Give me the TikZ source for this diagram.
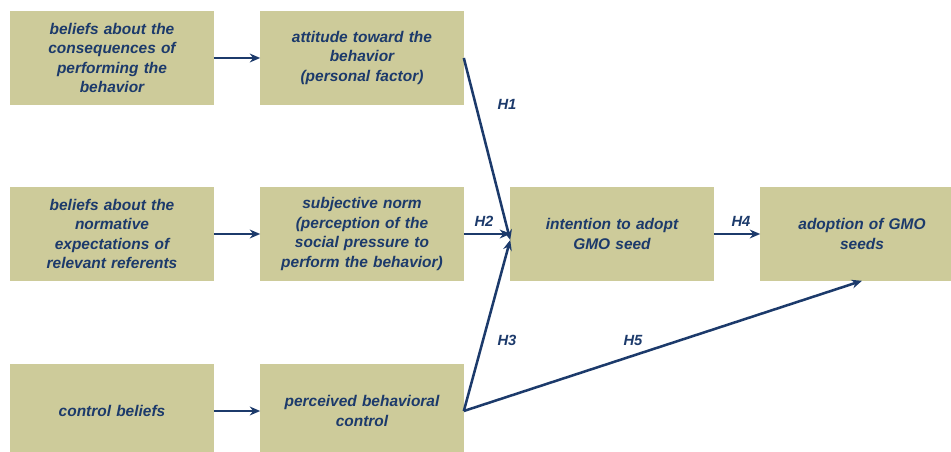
\documentclass[tikz,border=0pt]{standalone}
\usepackage{fontspec}
\setmainfont{Liberation Sans}
\usetikzlibrary{arrows.meta}

\definecolor{boxfill}{RGB}{205,203,154}
\definecolor{navy}{RGB}{28,58,107}

\begin{document}
\begin{tikzpicture}[>={Stealth[length=2.6mm,width=2.2mm]}, x=0.025cm, y=-0.025cm,
	factor/.style={fill=boxfill, text=navy, align=center, text width=4.7cm,
		minimum width=5.075cm, minimum height=2.325cm, inner sep=0pt,
		font=\bfseries\itshape\fontsize{11}{13.8}\selectfont},
	link/.style={->, navy, line width=1.8pt},
	hyp/.style={navy, font=\bfseries\itshape\fontsize{10.5}{12}\selectfont}]
		\useasboundingbox (0,0) rectangle (951,452);
		
		% beliefs
		\node[factor] (belcons) at (112,58) {beliefs about the\\consequences of\\performing the\\behavior};
		\node[factor] (belnorm) at (112,234) {beliefs about the\\normative\\expectations of\\relevant referents};
		\node[factor] (belctrl) at (112,411) {control beliefs};
		
		% factors
		\node[factor] (attitude) at (362,58) {attitude toward the\\behavior\\(personal factor)};
		\node[factor] (norm) at (362,234) {subjective norm\\(perception of the\\social pressure to\\perform the behavior)};
		\node[factor] (pbc) at (362,411) {perceived behavioral\\control};
		
		\node[factor] (intent) at (612,234) {intention to adopt\\GMO seed};
		\node[factor] (adopt) at (862,234) {adoption of GMO\\seeds};
		
		\draw[link] (belcons) -- (attitude);
		\draw[link] (belnorm) -- (norm);
		\draw[link] (belctrl) -- (pbc);
		
		\draw[link] (attitude.east) -- ([yshift=-0.15cm]intent.west);
		\draw[link] (norm.east) -- (intent.west);
		\draw[link] (pbc.east) -- ([yshift=-0.15cm]intent.west);
		\draw[link] (intent) -- (adopt);
		\draw[link] (pbc.east) -- (adopt.south);
		
		\node[hyp] at (507,104) {H1};
		\node[hyp] at (484,221) {H2};
		\node[hyp] at (507,340) {H3};
		\node[hyp] at (741,221) {H4};
		\node[hyp] at (633,340) {H5};
		
	\end{tikzpicture}
\end{document}
